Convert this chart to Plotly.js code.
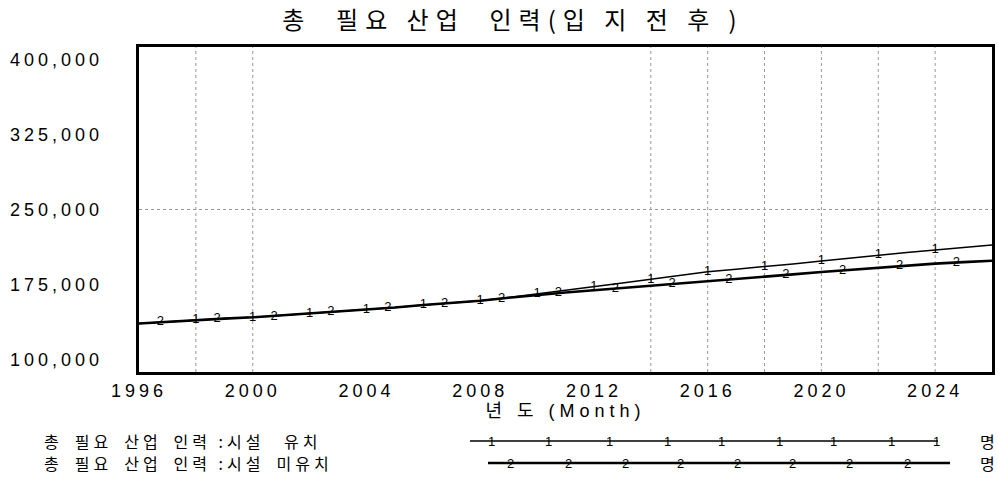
<!DOCTYPE html>
<html><head><meta charset="utf-8">
<script src="https://cdn.plot.ly/plotly-3.0.1.min.js"></script>
<style>
html,body{margin:0;padding:0;background:#fff;}
.gtitle{letter-spacing:7px;}
.xtitle{letter-spacing:5px;}
.xtick text{letter-spacing:4px;}
.annotation-text{letter-spacing:4px;}
</style>
</head><body><div id="chart" style="width:998px;height:479px;"></div>
<script>
// ---- data ----
const years = [1996,1997,1998,1999,2000,2001,2002,2003,2004,2005,2006,2007,2008,2009,2010,2011,2012,2013,2014,2015,2016,2017,2018,2019,2020,2021,2022,2023,2024,2025,2026];
const withFacility    = [144800,146400,148000,149300,150500,152300,154200,155700,157200,159500,161900,163800,165800,168700,171900,175300,178700,182100,185600,189000,192600,194900,197200,199800,202500,205200,208000,210300,212600,214900,217200];
const withoutFacility = [144800,146400,148000,149300,150500,152300,154200,155700,157200,159500,161900,163800,165800,168500,171300,173400,175500,177500,179500,181800,184000,186000,188000,190100,192300,194300,196300,198200,200000,201400,202700];
const mark1Years = [1998,2000,2002,2004,2006,2008,2010,2012,2014,2016,2018,2020,2022,2024];
const mark2Years = [1996.75,1998.75,2000.75,2002.75,2004.75,2006.75,2008.75,2010.75,2012.75,2014.75,2016.75,2018.75,2020.75,2022.75,2024.75];
const mark2Values = [146000,149000,151200,155300,158900,163300,167800,172800,176900,181300,185500,189600,193800,197700,201000];
const xTickYears = [1996,2000,2004,2008,2012,2016,2020,2024];
const xTickLabels = ['1996','2000','2004','2008','2012','2016','2020','2024'];
const yTickValues = [100000,175000,250000,325000,400000];
const yTickLabels = ['100,000','175,000','250,000','325,000','400,000'];
const gridYears = [1998,2000,2014,2016,2018,2020,2022,2024];
const gridValues = [250000];
const titleText = '총  필요 산업  인력(입 지 전 후 )';
const xTitleText = '년 도 (Month)';
const seriesNames = ['총\u2002필요\u2002산업\u2002인력 :시설\u2002 유치', '총\u2002필요\u2002산업\u2002인력 :시설\u2002미유치'];
const unitLabel = '명';

// ---- layout helpers ----
const W = 998, H = 479, L = 139, R = 6, T = 47, B = 107;
const PW = W - L - R, PH = H - T - B;
const px = x => (x - L) / PW;
const py = y => (H - B - y) / PH;
const numFont = 'Liberation Sans, Arial, sans-serif';
const korFont = 'Noto Sans CJK KR, sans-serif';

const s1Marks = mark1Years.map(y => withFacility[years.indexOf(y)]);

const traces = [
  {x: years, y: withFacility, mode: 'lines', line: {color: '#000', width: 1.5}, name: seriesNames[0], hoverinfo: 'skip'},
  {x: years, y: withoutFacility, mode: 'lines', line: {color: '#000', width: 2.6}, name: seriesNames[1], hoverinfo: 'skip'},
  {x: mark1Years, y: s1Marks, mode: 'text', text: mark1Years.map(() => '1'), textposition: 'middle center',
   textfont: {family: numFont, size: 13, color: '#000'}, hoverinfo: 'skip'},
  {x: mark2Years, y: mark2Values, mode: 'text', text: mark2Years.map(() => '2'), textposition: 'middle center',
   textfont: {family: numFont, size: 13, color: '#000'}, hoverinfo: 'skip'}
];

const shapes = [];
gridYears.forEach(g => shapes.push({type: 'line', xref: 'x', yref: 'paper', x0: g, x1: g, y0: 0, y1: 1, layer: 'below',
  line: {color: '#999', width: 1, dash: 'dot'}}));
gridValues.forEach(g => shapes.push({type: 'line', xref: 'paper', yref: 'y', x0: 0, x1: 1, y0: g, y1: g, layer: 'below',
  line: {color: '#999', width: 1, dash: 'dot'}}));

// legend lines
const legRows = [441, 463];
shapes.push({type: 'line', xref: 'paper', yref: 'paper', x0: px(470), x1: px(938), y0: py(legRows[0]), y1: py(legRows[0]), line: {color: '#000', width: 1.3}});
shapes.push({type: 'line', xref: 'paper', yref: 'paper', x0: px(488), x1: px(950), y0: py(legRows[1]), y1: py(legRows[1]), line: {color: '#000', width: 2.6}});

const annotations = [];
// y tick labels (Vensim draws them slightly inset from the frame)
yTickValues.forEach((v, i) => annotations.push({
  xref: 'paper', yref: 'y', x: 0, y: v, xanchor: 'right', yanchor: 'middle', xshift: -34,
  yshift: -(v - 250000) / 150000 * 12.5, text: yTickLabels[i], showarrow: false,
  font: {family: numFont, size: 18, color: '#000'}
}));
// legend texts
seriesNames.forEach((n, i) => annotations.push({
  xref: 'paper', yref: 'paper', x: px(42), y: py(legRows[i]), xanchor: 'left', yanchor: 'middle',
  text: n, showarrow: false, font: {family: korFont, size: 16, color: '#000'}
}));
[0, 1].forEach(i => annotations.push({
  xref: 'paper', yref: 'paper', x: px(989), y: py(legRows[i]), xanchor: 'center', yanchor: 'middle',
  text: unitLabel, showarrow: false, font: {family: korFont, size: 16, color: '#000'}
}));
[493, 550, 611, 669, 723, 781, 835, 893, 938].forEach(p => annotations.push({
  xref: 'paper', yref: 'paper', x: px(p), y: py(legRows[0]), xanchor: 'center', yanchor: 'middle',
  text: '1', showarrow: false, font: {family: numFont, size: 13, color: '#000'}
}));
[512, 570, 627, 682, 739, 794, 851, 909].forEach(p => annotations.push({
  xref: 'paper', yref: 'paper', x: px(p), y: py(legRows[1]), xanchor: 'center', yanchor: 'middle',
  text: '2', showarrow: false, font: {family: numFont, size: 13, color: '#000'}
}));

const layout = {
  width: W, height: H,
  margin: {l: L, r: R, t: T, b: B},
  paper_bgcolor: '#fff', plot_bgcolor: '#fff',
  showlegend: false,
  title: {text: titleText, x: 0.514, xref: 'container', xanchor: 'center', y: 1 - 21 / H, yref: 'container', yanchor: 'middle',
    font: {family: korFont, size: 24, color: '#000'}},
  xaxis: {range: [1996, 2026], tickmode: 'array', tickvals: xTickYears, ticktext: xTickLabels, ticks: '',
    showgrid: false, zeroline: false, showline: true, mirror: true, linecolor: '#000', linewidth: 3,
    tickfont: {family: numFont, size: 18, color: '#000'},
    title: {text: xTitleText, standoff: 0, font: {family: numFont + ', ' + korFont, size: 18, color: '#000'}},
    automargin: false, fixedrange: true},
  yaxis: {range: [100000, 400000], showticklabels: false, ticks: '', showgrid: false, zeroline: false,
    showline: true, mirror: true, linecolor: '#000', linewidth: 3, automargin: false, fixedrange: true},
  shapes: shapes,
  annotations: annotations
};

Plotly.newPlot('chart', traces, layout, {staticPlot: true, displayModeBar: false});
</script>
</body></html>
